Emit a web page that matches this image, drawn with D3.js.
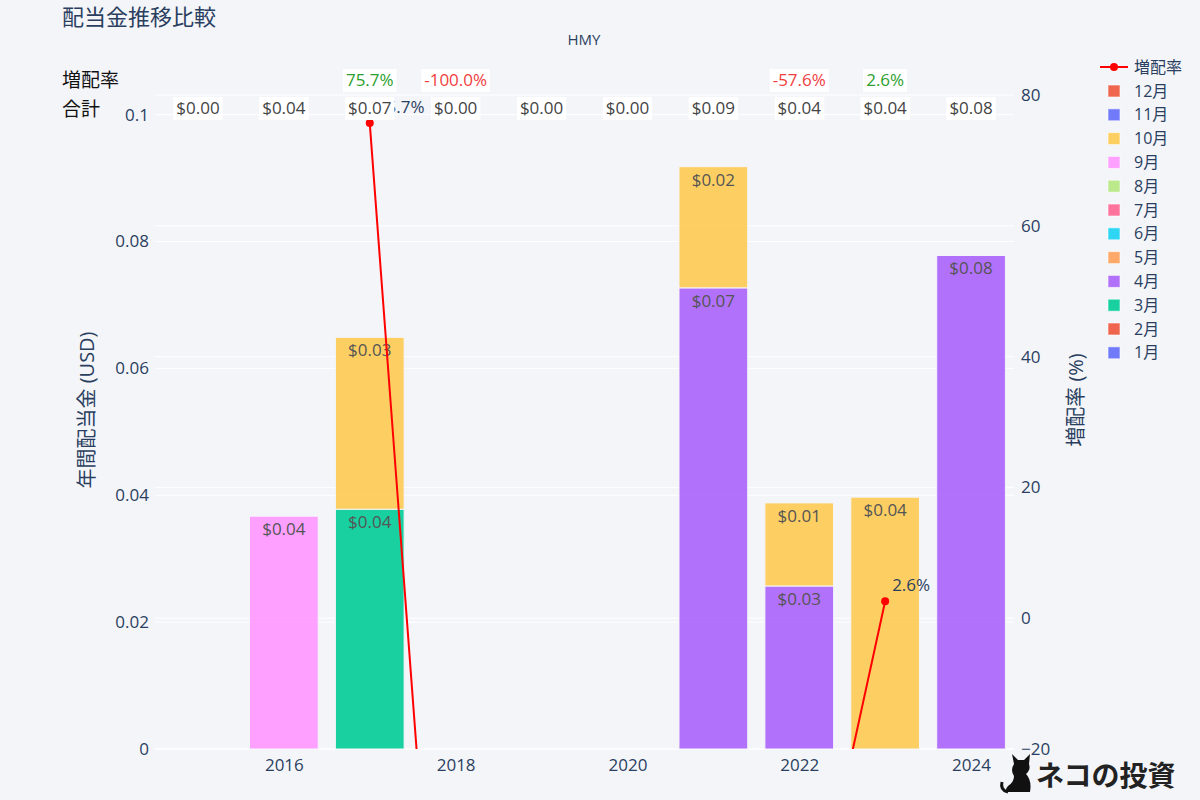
<!DOCTYPE html>
<html>
<head>
<meta charset="utf-8">
<script src="https://cdnjs.cloudflare.com/ajax/libs/d3/7.8.5/d3.min.js"></script>
<style>
    body { margin: 0; background: #f4f5f9; }
    .chart { width: 1200px; height: 800px; }
    text { font-family: "Open Sans", "Noto Sans CJK JP", sans-serif; }
</style>
</head>
<body>
<div class="chart"></div>
<script>
//Data
let years = [2015, 2016, 2017, 2018, 2019, 2020, 2021, 2022, 2023, 2024];

let monthNames = ["1月", "2月", "3月", "4月", "5月", "6月", "7月", "8月", "9月", "10月", "11月", "12月"];
let monthColors = ["#636EFA", "#EF553B", "#00CC96", "#AB63FA", "#FFA15A", "#19D3F3",
    "#FF6692", "#B6E880", "#FF97FF", "#FECB52", "#636EFA", "#EF553B"];

//dividends per month, one value per year
let zeros = [0, 0, 0, 0, 0, 0, 0, 0, 0, 0];
let marValues = [0, 0, 0.0378, 0, 0, 0, 0, 0, 0, 0];
let aprValues = [0, 0, 0, 0, 0, 0, 0.0727, 0.0257, 0, 0.0778];
let sepValues = [0, 0.0367, 0, 0, 0, 0, 0, 0, 0, 0];
let octValues = [0, 0, 0.0271, 0, 0, 0, 0.0191, 0.0131, 0.0397, 0];

let monthValues = [zeros, zeros, marValues, aprValues, zeros, zeros,
    zeros, zeros, sepValues, octValues, zeros, zeros];

let totalLabels = ["$0.00", "$0.04", "$0.07", "$0.00", "$0.00", "$0.00", "$0.09", "$0.04", "$0.04", "$0.08"];
let growthValues = [null, null, 75.7, -100, null, null, null, -57.6, 2.6, null];

let leftTicks = [0, 0.02, 0.04, 0.06, 0.08, 0.1];
let rightTicks = [-20, 0, 20, 40, 60, 80];
let xTicks = [2016, 2018, 2020, 2022, 2024];

let chart = {};
let fmtMoney = d3.format("$.2f");

init();

function init() {
    //stack the months for every year
    chart.segments = [];
    years.forEach((year, i) => {
        let base = 0;
        monthValues.forEach((vals, m) => {
            let v = vals[i];
            if (v > 0) {
                chart.segments.push({ year: year, month: m, y0: base, y1: base + v, val: v });
                base += v;
            }
        });
    });

    chart.growth = years.map((year, i) => ({ year: year, val: growthValues[i] }));

    setDimensions();
    setScales();
    appendElements();
}

function setDimensions() {
    chart.margin = { top: 95, right: 186, bottom: 51, left: 155 };
    chart.width = 1200 - chart.margin.left - chart.margin.right;
    chart.height = 800 - chart.margin.top - chart.margin.bottom;
}

function setScales() {
    chart.xScale = d3.scaleLinear()
        .domain([2014.5, 2024.5])
        .range([0, chart.width]);

    chart.yScale = d3.scaleLinear()
        .domain([0, 0.1031])
        .range([chart.height, 0]);

    chart.y2Scale = d3.scaleLinear()
        .domain([-20, 80])
        .range([chart.height, 0]);

    chart.line = d3.line()
        .defined(d => d.val !== null)
        .x(d => chart.xScale(d.year))
        .y(d => chart.y2Scale(d.val));
}

function appendElements() {
    chart.svg = d3.select(".chart").append("svg")
        .attr("width", 1200)
        .attr("height", 800);

    chart.svg.append("rect")
        .attr("width", 1200)
        .attr("height", 800)
        .attr("fill", "#f4f5f9");

    chart.svg.append("defs").append("clipPath")
        .attr("id", "plot-clip")
        .append("rect")
        .attr("width", chart.width)
        .attr("height", chart.height);

    chart.plot = chart.svg.append("g")
        .attr("transform", `translate(${chart.margin.left},${chart.margin.top})`);

    //grid lines for both y axes
    chart.plot.selectAll(".grid-left")
        .data(leftTicks)
        .enter()
        .append("line")
        .attr("x1", 0)
        .attr("x2", chart.width)
        .attr("y1", d => chart.yScale(d))
        .attr("y2", d => chart.yScale(d))
        .attr("stroke", "#fff")
        .attr("stroke-width", 1);

    chart.plot.selectAll(".grid-right")
        .data(rightTicks)
        .enter()
        .append("line")
        .attr("x1", 0)
        .attr("x2", chart.width)
        .attr("y1", d => chart.y2Scale(d))
        .attr("y2", d => chart.y2Scale(d))
        .attr("stroke", "#fff")
        .attr("stroke-width", 1);

    //axes
    let xAxis = chart.plot.append("g")
        .attr("transform", `translate(0,${chart.height})`)
        .call(d3.axisBottom(chart.xScale).tickValues(xTicks).tickFormat(d3.format("d")).tickSize(0).tickPadding(10));

    let yAxis = chart.plot.append("g")
        .call(d3.axisLeft(chart.yScale).tickValues(leftTicks).tickFormat(d => d === 0 ? "0" : d3.format("")(d)).tickSize(0).tickPadding(6));

    let y2Axis = chart.plot.append("g")
        .attr("transform", `translate(${chart.width},0)`)
        .call(d3.axisRight(chart.y2Scale).tickValues(rightTicks).tickFormat(d => d < 0 ? "\u221220" : d).tickSize(0).tickPadding(7));

    [xAxis, yAxis, y2Axis].forEach(ax => {
        ax.select(".domain").remove();
        ax.selectAll("text")
            .attr("fill", "#2a3f5f")
            .style("font-size", "17px");
    });

    //axis titles
    chart.svg.append("text")
        .attr("transform", "translate(94,410) rotate(-90)")
        .attr("text-anchor", "middle")
        .attr("fill", "#2a3f5f")
        .style("font-size", "20px")
        .text("年間配当金 (USD)");

    chart.svg.append("text")
        .attr("transform", "translate(1083,400) rotate(-90)")
        .attr("text-anchor", "middle")
        .attr("fill", "#2a3f5f")
        .style("font-size", "20px")
        .text("増配率 (%)");

    //stacked bars
    let band = chart.xScale(1) - chart.xScale(0);
    let barWidth = band * 0.8;

    chart.plot.selectAll(".bar")
        .data(chart.segments)
        .enter()
        .append("rect")
        .attr("class", "bar")
        .attr("x", d => chart.xScale(d.year) - barWidth / 2)
        .attr("y", d => chart.yScale(d.y1))
        .attr("width", barWidth)
        .attr("height", d => chart.yScale(d.y0) - chart.yScale(d.y1))
        .attr("fill", d => monthColors[d.month])
        .attr("fill-opacity", 0.9)
        .attr("stroke", "#f4f5f9")
        .attr("stroke-width", 1);

    chart.plot.selectAll(".bar-label")
        .data(chart.segments)
        .enter()
        .append("text")
        .attr("class", "bar-label")
        .attr("x", d => chart.xScale(d.year))
        .attr("y", d => chart.yScale(d.y1) + 19)
        .attr("text-anchor", "middle")
        .attr("fill", "#555")
        .style("font-size", "17px")
        .text(d => fmtMoney(d.val));

    //growth line
    let lineGroup = chart.plot.append("g").attr("clip-path", "url(#plot-clip)");

    lineGroup.append("path")
        .datum(chart.growth)
        .attr("d", chart.line)
        .attr("fill", "none")
        .attr("stroke", "red")
        .attr("stroke-width", 2);

    //only the points that fall inside the right axis range
    let points = chart.growth.filter(d => d.val !== null && d.val >= -20 && d.val <= 80);

    lineGroup.selectAll(".dot")
        .data(points)
        .enter()
        .append("circle")
        .attr("cx", d => chart.xScale(d.year))
        .attr("cy", d => chart.y2Scale(d.val))
        .attr("r", 4)
        .attr("fill", "red");

    chart.plot.selectAll(".dot-label")
        .data(points)
        .enter()
        .append("text")
        .attr("x", d => chart.xScale(d.year) + 7)
        .attr("y", d => chart.y2Scale(d.val) - 10)
        .attr("fill", "#2a3f5f")
        .style("font-size", "17px")
        .text(d => d.val.toFixed(1) + "%");

    //header rows
    chart.svg.append("text")
        .attr("x", 62).attr("y", 87)
        .attr("fill", "#111")
        .style("font-size", "19px")
        .text("増配率");

    chart.svg.append("text")
        .attr("x", 62).attr("y", 116)
        .attr("fill", "#111")
        .style("font-size", "19px")
        .text("合計");

    let totalRow = chart.svg.selectAll(".total")
        .data(years.map((year, i) => ({ year: year, label: totalLabels[i] })))
        .enter()
        .append("g")
        .attr("transform", d => `translate(${chart.margin.left + chart.xScale(d.year)},108)`);

    totalRow.append("text")
        .attr("text-anchor", "middle")
        .attr("dy", "0.35em")
        .attr("fill", "#444")
        .style("font-size", "17px")
        .text(d => d.label)
        .each(addBox);

    let growthRow = chart.svg.selectAll(".growth")
        .data(chart.growth.filter(d => d.val !== null))
        .enter()
        .append("g")
        .attr("transform", d => `translate(${chart.margin.left + chart.xScale(d.year)},80)`);

    growthRow.append("text")
        .attr("text-anchor", "middle")
        .attr("dy", "0.35em")
        .attr("fill", d => d.val >= 0 ? "#2ca02c" : "#f03e3e")
        .style("font-size", "17px")
        .text(d => d.val.toFixed(1) + "%")
        .each(addBox);

    //titles
    chart.svg.append("text")
        .attr("x", 62).attr("y", 25)
        .attr("fill", "#2a3f5f")
        .style("font-size", "22px")
        .text("配当金推移比較");

    chart.svg.append("text")
        .attr("x", 584).attr("y", 45)
        .attr("text-anchor", "middle")
        .attr("fill", "#2a3f5f")
        .style("font-size", "15px")
        .text("HMY");

    //legend
    let legend = chart.svg.append("g").attr("transform", "translate(1100,67)");

    legend.append("line")
        .attr("x1", 0).attr("x2", 28)
        .attr("stroke", "red").attr("stroke-width", 2);
    legend.append("circle")
        .attr("cx", 14).attr("r", 4).attr("fill", "red");
    legend.append("text")
        .attr("x", 34).attr("dy", "0.35em")
        .attr("fill", "#2a3f5f")
        .style("font-size", "16px")
        .text("増配率");

    let legendItems = legend.selectAll(".legend-item")
        .data(d3.range(11, -1, -1))
        .enter()
        .append("g")
        .attr("transform", (d, i) => `translate(0,${24 + i * 23.8})`);

    legendItems.append("rect")
        .attr("x", 8).attr("y", -6)
        .attr("width", 12).attr("height", 12)
        .attr("fill", d => monthColors[d])
        .attr("fill-opacity", 0.9)
        .attr("stroke", "#fff")
        .attr("stroke-opacity", 0.6);

    legendItems.append("text")
        .attr("x", 34).attr("dy", "0.35em")
        .attr("fill", "#2a3f5f")
        .style("font-size", "16px")
        .text(d => monthNames[d]);

    //logo
    let logo = chart.svg.append("g").attr("transform", "translate(1000,752)");
    logo.append("path")
        .attr("d", "M14,12 L12,2 L18,8 L24,8 L30,2 L29,12 Q31,18 26,22 Q32,28 30,40 L8,40 Q4,38 8,34 Q14,30 14,24 Q10,18 14,12 Z")
        .attr("fill", "#111");
    logo.append("path")
        .attr("d", "M8,40 Q0,38 2,30")
        .attr("fill", "none")
        .attr("stroke", "#111")
        .attr("stroke-width", 3);
    logo.append("text")
        .attr("x", 36).attr("y", 34)
        .attr("fill", "#222")
        .style("font-size", "28px")
        .style("font-weight", "bold")
        .style("font-family", "'Noto Sans CJK JP', sans-serif")
        .text("ネコの投資");
}

//white box behind a header label
function addBox() {
    let box = this.getBBox();
    d3.select(this.parentNode).insert("rect", "text")
        .attr("x", box.x - 3).attr("y", -11)
        .attr("width", box.width + 6).attr("height", 23)
        .attr("fill", "#fff");
}
</script>
</body>
</html>
